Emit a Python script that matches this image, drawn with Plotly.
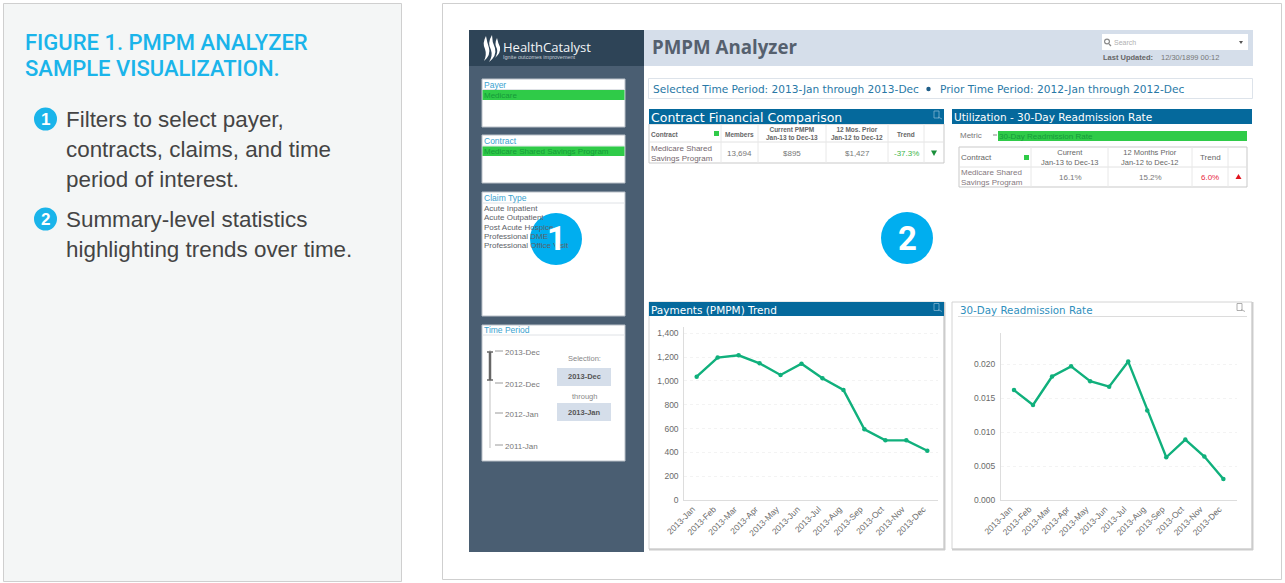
import plotly.graph_objects as go

# Values
months = ['2013-Jan', '2013-Feb', '2013-Mar', '2013-Apr', '2013-May', '2013-Jun',
          '2013-Jul', '2013-Aug', '2013-Sep', '2013-Oct', '2013-Nov', '2013-Dec']
pmpm_trend = [1036, 1196, 1215, 1148, 1050, 1145, 1022, 924, 594, 501, 501, 414]
readmit_rate = [0.0162, 0.0140, 0.0182, 0.0197, 0.0175, 0.0167, 0.0204, 0.0132, 0.0063, 0.0089, 0.0064, 0.0031]
claim_types = ['Acute Inpatient', 'Acute Outpatient', 'Post Acute Hospice', 'Professional DME', 'Professional Office Visit']
time_labels = ['2013-Dec', '2012-Dec', '2012-Jan', '2011-Jan']

W, H = 1285, 583
BLUE = '#05699c'
GREEN = '#2fcb48'
LINE = '#10b07c'
GREY = '#6a6a6a'
SANS = 'Liberation Sans'
DEJA = 'DejaVu Sans'

shapes = []
notes = []


def fx(x):
    return x / W


def fy(y):
    return 1 - y / H


def rect(x0, y0, x1, y1, fill='white', line=None, width=1):
    shapes.append(dict(type='rect', xref='paper', yref='paper', x0=fx(x0), x1=fx(x1), y0=fy(y0), y1=fy(y1),
                       fillcolor=fill, line=dict(color=line or fill, width=width if line else 0), layer='below'))


def seg(x0, y0, x1, y1, color='#dcdcdc', width=1):
    shapes.append(dict(type='line', xref='paper', yref='paper', x0=fx(x0), x1=fx(x1), y0=fy(y0), y1=fy(y1),
                       line=dict(color=color, width=width), layer='below'))


def circle(cx, cy, r, fill):
    shapes.append(dict(type='circle', xref='paper', yref='paper', x0=fx(cx - r), x1=fx(cx + r), y0=fy(cy - r), y1=fy(cy + r),
                       fillcolor=fill, line=dict(width=0), layer='below'))


def path(points, fill):
    # points: M/Q/L string built from pixel coordinates
    parts = []
    for cmd, *xy in points:
        coords = ' '.join(f'{fx(xy[i]):.5f},{fy(xy[i + 1]):.5f}' for i in range(0, len(xy), 2))
        parts.append(f'{cmd}{coords}')
    shapes.append(dict(type='path', xref='paper', yref='paper', path=' '.join(parts) + ' Z',
                       fillcolor=fill, line=dict(width=0), layer='below'))


def text(x, y, s, size=8, color=GREY, font=SANS, anchor='left', bold=False, weight=None):
    if bold:
        s = f'<b>{s}</b>'
    f = dict(family=font, size=size, color=color)
    if weight:
        f['weight'] = weight
    notes.append(dict(xref='paper', yref='paper', x=fx(x), y=fy(y), text=s, showarrow=False, xanchor=anchor,
                      yanchor='middle', align=anchor, font=f, borderpad=0, borderwidth=0))


def export_icon(x, y, color):
    # little "send to excel" icon in the panel corners
    rect(x, y, x + 5, y + 7, 'rgba(0,0,0,0)', color, 0.8)
    seg(x + 4, y + 6, x + 8, y + 8, color, 0.8)


# Left caption panel
rect(3.5, 3.5, 401.5, 581.5, '#f4f6f6', '#cfcfcf', 1)
text(25, 42, 'FIGURE 1. PMPM ANALYZER', 22, '#1ab4ea', 'Roboto', weight=500)
text(25, 69, 'SAMPLE VISUALIZATION.', 22, '#1ab4ea', 'Roboto', weight=500)
circle(45.5, 119, 11.5, '#1ab4ea')
circle(45.5, 219, 11.5, '#1ab4ea')
text(45.5, 119, '1', 17, 'white', SANS, 'center', True)
text(45.5, 219, '2', 17, 'white', SANS, 'center', True)
for yy, line in [(119, 'Filters to select payer,'), (149, 'contracts, claims, and time'), (179, 'period of interest.'),
                 (219, 'Summary-level statistics'), (249, 'highlighting trends over time.')]:
    text(65.5, yy, line, 22.4, '#444444')

# Right frame and dashboard background
rect(442.5, 3.5, 1281.5, 579.5, 'white', '#cfcfcf', 1)
rect(469, 30, 644, 552, '#4a5e72')
rect(469, 30, 644, 66, '#2e4457')
rect(644, 30, 1253, 66, '#d5deea')

# Logo
path([('M', 486, 36), ('Q', 482, 43, 485, 49), ('Q', 487, 55, 484, 61), ('Q', 491, 55, 489, 48), ('Q', 487, 42, 486, 36)], 'white')
path([('M', 492, 35), ('Q', 487, 43, 491, 50), ('Q', 493, 56, 489, 62), ('Q', 497, 56, 495, 48), ('Q', 492, 42, 492, 35)], 'white')
path([('M', 497, 38), ('Q', 494, 44, 497, 49), ('Q', 498, 53, 495, 58), ('Q', 501, 53, 500, 47), ('Q', 498, 43, 497, 38)], 'white')
text(503, 46.5, 'HealthCatalyst', 13, '#f2f5f7', 'Open Sans')
text(503, 57, 'Ignite outcomes improvement', 5.5, '#c5ced6')

# Header bar
text(652, 47, 'PMPM Analyzer', 18.7, '#55606e', 'Open Sans', weight=700)
rect(1102, 34, 1248, 50)
circle(1107, 41.5, 3, '#8a8a8a')
circle(1107, 41.5, 1.8, 'white')
seg(1109, 44, 1111, 46, '#8a8a8a', 1.2)
text(1114, 43, 'Search', 7, '#b0b0b0')
path([('M', 1239, 41), ('L', 1243, 41), ('L', 1241, 44)], '#555555')
text(1103, 58, 'Last Updated:', 7.5, '#666666', bold=True)
text(1161, 58, '12/30/1899 00:12', 7.5, '#777777')

# Selected period strip
rect(648.5, 78.5, 1252.5, 98.5, 'white', '#dde3ea', 1)
text(652.5, 88.5, 'Selected Time Period: 2013-Jan through 2013-Dec', 10.6, '#2878a6', DEJA)
circle(928.5, 89, 2.2, '#1f5e88')
text(939.5, 88.5, 'Prior Time Period: 2012-Jan through 2012-Dec', 10.6, '#2878a6', DEJA)

# Sidebar filter boxes
for top, bottom, label_line in [(79, 127, 89.5), (135, 183, 146), (192, 316, 203), (325, 461, 335)]:
    rect(482, top, 625, bottom, 'white', '#b9c0c8', 1)
    seg(482, label_line, 625, label_line, '#dfe2e6')
text(483.5, 85, 'Payer', 8.5, '#3aa2cf')
rect(482.5, 90, 624.5, 100, GREEN)
text(483.5, 95, 'Medicare', 8, '#159a3a')
text(483.5, 141, 'Contract', 8.5, '#3aa2cf')
rect(482.5, 146.5, 624.5, 156, GREEN)
text(483.5, 151.5, 'Medicare Shared Savings Program', 8, '#159a3a')
text(483.5, 198, 'Claim Type', 8.5, '#3aa2cf')

# Numbered callouts
circle(556, 239, 26, '#00aeef')
circle(907, 238, 26, '#00aeef')
for i, claim in enumerate(claim_types):
    text(483.5, 208.5 + i * 9.3, claim, 8, '#5c6268')
text(556, 239, '1', 33, 'white', 'Roboto', 'center', True)
text(907, 238, '2', 33, 'white', 'Roboto', 'center', True)

# Time period slider
text(483.5, 330, 'Time Period', 8.5, '#3aa2cf')
seg(490, 350, 490, 448, '#e0e0e0', 2)
seg(490, 352, 490, 380, '#666666', 2.5)
seg(487, 352, 493, 352, '#666666', 1.5)
seg(487, 380, 493, 380, '#666666', 1.5)
for yy, label in zip([351, 383, 413, 445], time_labels):
    seg(495, yy, 503, yy, '#9a9a9a', 1)
    text(505, yy + 1, label, 8, '#777777')
text(584, 358, 'Selection:', 7.5, '#888888', anchor='center')
rect(557, 368, 611, 386, '#d5deea')
text(584, 377, '2013-Dec', 7.5, '#555555', anchor='center', bold=True)
text(584, 396, 'through', 7.5, '#888888', anchor='center')
rect(557, 403, 611, 421, '#d5deea')
text(584, 412, '2013-Jan', 7.5, '#555555', anchor='center', bold=True)

# Contract Financial Comparison table
rect(649, 124, 944, 163, 'white', '#c9c9c9', 1)
rect(649, 109, 944, 124, BLUE)
text(651, 117, 'Contract Financial Comparison', 12.5, 'white', DEJA)
export_icon(934, 111, '#7fb3cf')
seg(649, 142, 944, 142, '#e2e2e2')
for xx in [721, 758, 826, 888, 924]:
    seg(xx, 124, xx, 163, '#e8e8e8')
text(651, 134, 'Contract', 6.5, '#666666', bold=True)
rect(714, 131, 719, 136, GREEN)
text(739.5, 134, 'Members', 6.5, '#666666', anchor='center', bold=True)
text(792, 133, 'Current PMPM<br>Jan-13 to Dec-13', 6.5, '#666666', anchor='center', bold=True)
text(857, 133, '12 Mos. Prior<br>Jan-12 to Dec-12', 6.5, '#666666', anchor='center', bold=True)
text(906, 134, 'Trend', 6.5, '#666666', anchor='center', bold=True)
text(651, 153, 'Medicare Shared<br>Savings Program', 8, '#75686e')
text(739.5, 153.5, '13,694', 8, '#777777', anchor='center')
text(792, 153.5, '$895', 8, '#777777', anchor='center')
text(857, 153.5, '$1,427', 8, '#777777', anchor='center')
text(906, 153.5, '-37.3%', 8, '#3cb54a', anchor='center')
path([('M', 931, 150.5), ('L', 937, 150.5), ('L', 934, 156)], '#1a8f3a')

# Utilization table
rect(952, 109, 1252, 124, BLUE)
text(954, 117, 'Utilization - 30-Day Readmission Rate', 10.5, 'white', DEJA)
text(960, 135.5, 'Metric', 8, '#777777')
seg(993, 135, 997, 135, '#888888')
rect(998, 131, 1247, 141, GREEN)
text(999, 136, '30-Day Readmission Rate', 8, '#159a3a')
rect(959, 147, 1247, 187, 'white', '#c9c9c9', 1)
seg(959, 167, 1247, 167, '#e2e2e2')
for xx in [1031, 1108, 1192, 1228]:
    seg(xx, 147, xx, 187, '#e8e8e8')
text(961, 157.5, 'Contract', 8, '#666666')
rect(1024, 155, 1029, 160, GREEN)
text(1070, 157.5, 'Current<br>Jan-13 to Dec-13', 7.5, '#666666', anchor='center')
text(1150, 157.5, '12 Months Prior<br>Jan-12 to Dec-12', 7.5, '#666666', anchor='center')
text(1210, 157.5, 'Trend', 8, '#666666', anchor='center')
text(961, 177, 'Medicare Shared<br>Savings Program', 8, '#85797e')
text(1070, 177, '16.1%', 8, '#777777', anchor='center')
text(1150, 177, '15.2%', 8, '#777777', anchor='center')
text(1210, 177, '6.0%', 8, '#e8283c', anchor='center')
path([('M', 1235.5, 179), ('L', 1241.5, 179), ('L', 1238.5, 174)], '#e0141e')

# Chart panels
rect(649, 302, 944, 549, 'white', '#d4d4d4', 1)
seg(649, 549.5, 945, 549.5, '#cccccc', 2)
seg(944.5, 302, 944.5, 550, '#cccccc', 2)
rect(649, 302, 944, 316, BLUE)
text(651, 309.5, 'Payments (PMPM) Trend', 10.5, 'white', DEJA)
export_icon(934, 303.5, '#7fb3cf')
rect(952, 302, 1252, 549, 'white', '#d4d4d4', 1)
seg(952, 549.5, 1253, 549.5, '#cccccc', 2)
seg(1252.5, 302, 1252.5, 550, '#cccccc', 2)
seg(958, 316.5, 1247, 316.5, '#dcdcdc')
text(960, 309.5, '30-Day Readmission Rate', 10.3, '#2f8fbd', DEJA)
export_icon(1237, 303.5, '#9a9a9a')

fig = go.Figure()
fig.add_trace(go.Scatter(x=months, y=pmpm_trend, mode='lines+markers', line=dict(color=LINE, width=2.4),
                         marker=dict(color=LINE, size=4.5), xaxis='x', yaxis='y', showlegend=False))
fig.add_trace(go.Scatter(x=months, y=readmit_rate, mode='lines+markers', line=dict(color=LINE, width=2.4),
                         marker=dict(color=LINE, size=4.5), xaxis='x2', yaxis='y2', showlegend=False))

axis_style = dict(showline=True, linecolor='#dddddd', linewidth=1, ticks='', zeroline=False,
                  automargin=False, tickfont=dict(family=SANS, size=8.5, color='#6a6a6a'))
fig.update_layout(
    width=W, height=H, margin=dict(l=0, r=0, t=0, b=0, autoexpand=False),
    paper_bgcolor='white', plot_bgcolor='rgba(0,0,0,0)',
    shapes=shapes, annotations=notes,
    xaxis=dict(domain=[fx(684.3), fx(938)], anchor='y', type='category', range=[-0.59, 11.51], tickangle=-45,
               showgrid=False, ticklabelshift=-4, **axis_style),
    yaxis=dict(domain=[fy(500), fy(327)], anchor='x', range=[0, 1453], dtick=200, tickformat=',',
               gridcolor='#f3f3f3', griddash='dot', ticklabelstandoff=3, **axis_style),
    xaxis2=dict(domain=[fx(1001), fx(1236.7)], anchor='y2', type='category', range=[-0.683, 11.7], tickangle=-45,
                showgrid=False, ticklabelshift=-4, **axis_style),
    yaxis2=dict(domain=[fy(500), fy(333.3)], anchor='x2', range=[0, 0.02457], dtick=0.005, tickformat='.3f',
                gridcolor='#f3f3f3', griddash='dot', ticklabelstandoff=3, **axis_style),
)

fig.write_html("out.html", config=dict(displayModeBar=False), post_script="document.body.style.margin='0';")
